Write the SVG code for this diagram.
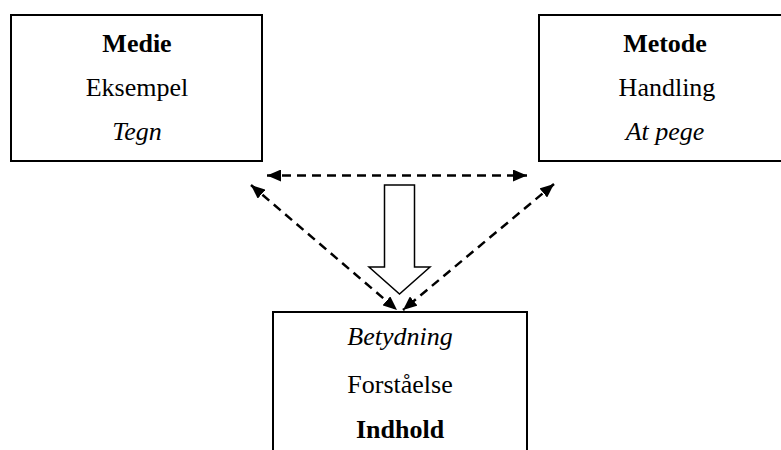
<svg xmlns="http://www.w3.org/2000/svg" width="781" height="450" viewBox="0 0 781 450">
<style>
.box{fill:#fff;stroke:#000;stroke-width:2}
text{font-family:"Liberation Serif","Times New Roman",serif;font-size:26px;fill:#000;text-anchor:middle}
.b{font-weight:bold}
.i{font-style:italic}
.dash{fill:none;stroke:#000;stroke-width:2.5;stroke-dasharray:9 6}
</style>
<defs>
<marker id="ah" viewBox="0 0 14 12" refX="14" refY="6" markerWidth="14" markerHeight="12" markerUnits="userSpaceOnUse" orient="auto-start-reverse">
<path d="M0,0 L14,6 L0,12 Z" fill="#000"/>
</marker>
</defs>
<rect width="781" height="450" fill="#fff"/>
<g id="medie">
<rect class="box" x="11" y="15" width="251" height="146"/>
<text class="b" x="137" y="52">Medie</text>
<text x="137" y="96">Eksempel</text>
<text class="i" x="137" y="140">Tegn</text>
</g>
<g id="metode">
<rect class="box" x="539" y="15" width="260" height="146"/>
<text class="b" x="665" y="52">Metode</text>
<text x="667" y="96">Handling</text>
<text class="i" x="665" y="140">At pege</text>
</g>
<g id="indhold">
<rect class="box" x="273" y="312" width="254" height="160"/>
<text class="i" x="400" y="345">Betydning</text>
<text x="400" y="393">Forståelse</text>
<text class="b" x="400" y="438">Indhold</text>
</g>
<g id="connectors">
<line class="dash" x1="267" y1="175.5" x2="527" y2="175.5" marker-start="url(#ah)" marker-end="url(#ah)"/>
<line class="dash" x1="251" y1="185" x2="397" y2="310" marker-start="url(#ah)" marker-end="url(#ah)"/>
<line class="dash" x1="554" y1="184" x2="403" y2="310" marker-start="url(#ah)" marker-end="url(#ah)"/>
<path d="M384.5,185 L414.5,185 L414.5,267 L430,267 L399.5,294 L369,267 L384.5,267 Z" fill="#fff" stroke="#000" stroke-width="1.5"/>
</g>
</svg>
